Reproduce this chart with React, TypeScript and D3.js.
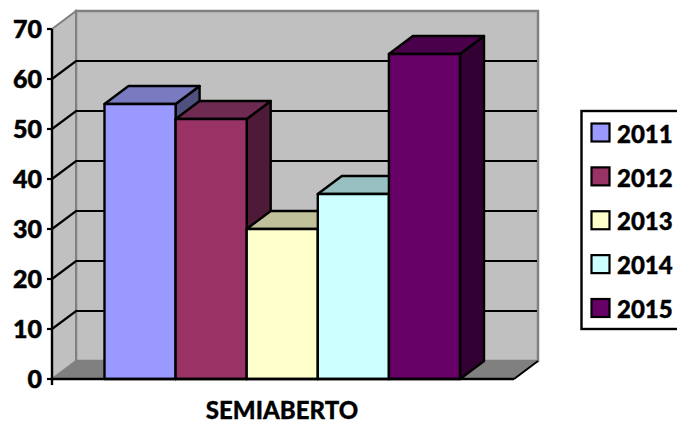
import React from "react";
import * as d3 from "d3";

const categories = ["2011", "2012", "2013", "2014", "2015"];
const values = [55, 52, 30, 37, 65];
const colors = ["#9999ff", "#993366", "#ffffcc", "#ccffff", "#660066"];
const topShades = ["#7a7ac0", "#6e2a50", "#c0c09a", "#99c0c0", "#4a004a"];
const sideShades = ["#50507f", "#4d1a38", "#80806a", "#668080", "#330033"];
const yTicks = [0, 10, 20, 30, 40, 50, 60, 70];
const categoryLabel = "SEMIABERTO";

const W = 677;
const H = 423;
const font = "Lato, Carlito, sans-serif";
const dx = 24;
const dy = -18;
const x0 = 52;
const x1 = 514;
const y = d3.scaleLinear().domain([0, 70]).range([379, 29]);
const x = d3.scaleBand().domain(categories).range([104.5, 460]).padding(0);
const legendRow = d3.scaleLinear().domain([0, 4]).range([132.5, 308]);

const pts = (p: number[][]) => p.map((a) => a.join(",")).join(" ");

export default function App() {
  const yBase = y(0);
  const yTop = y(70);
  return (
    <svg
      width={W}
      height={H}
      style={{ position: "absolute", left: 0, top: 0, background: "#fff" }}
      fontFamily={font}
    >
      {/* back wall, side wall and floor */}
      <polygon
        points={pts([[x0 + dx, yTop + dy], [x1 + dx, yTop + dy], [x1 + dx, yBase + dy], [x0 + dx, yBase + dy]])}
        fill="#c0c0c0"
        stroke="#808080"
        strokeWidth={2.5}
      />
      <polygon
        points={pts([[x0, yTop], [x0 + dx, yTop + dy], [x0 + dx, yBase + dy], [x0, yBase]])}
        fill="#c0c0c0"
        stroke="#808080"
        strokeWidth={2}
      />
      <polygon
        points={pts([[x0, yBase], [x0 + dx, yBase + dy], [x1 + dx, yBase + dy], [x1, yBase]])}
        fill="#808080"
        stroke="#808080"
        strokeWidth={1}
      />

      {/* gridlines wrap from the side wall on to the back wall */}
      {yTicks.filter((t) => t > 0 && t < 70).map((t) => (
        <polyline
          key={t}
          points={pts([[x0, y(t)], [x0 + dx, y(t) + dy], [x1 + dx - 1, y(t) + dy]])}
          fill="none"
          stroke="#000"
          strokeWidth={2.2}
        />
      ))}

      {/* bars */}
      {categories.map((c, i) => {
        const bx = x(c) as number;
        const bw = x.bandwidth();
        const yv = y(values[i]);
        return (
          <g key={c} stroke="#000" strokeWidth={2.4} strokeLinejoin="round">
            <polygon
              points={pts([[bx + bw, yv], [bx + bw + dx, yv + dy], [bx + bw + dx, yBase + dy], [bx + bw, yBase]])}
              fill={sideShades[i]}
            />
            <polygon
              points={pts([[bx, yv], [bx + dx, yv + dy], [bx + bw + dx, yv + dy], [bx + bw, yv]])}
              fill={topShades[i]}
            />
            <rect x={bx} y={yv} width={bw} height={yBase - yv} fill={colors[i]} />
          </g>
        );
      })}

      {/* axes */}
      <line x1={x0} x2={x0} y1={yTop} y2={yBase + 6} stroke="#000" strokeWidth={2.4} />
      <line x1={x0} x2={x1} y1={yBase} y2={yBase} stroke="#000" strokeWidth={2.6} />
      <line x1={x1} x2={x1 + dx} y1={yBase} y2={yBase + dy} stroke="#000" strokeWidth={2} />
      {yTicks.map((t) => (
        <g key={t}>
          <line x1={x0 - 5} x2={x0} y1={y(t)} y2={y(t)} stroke="#000" strokeWidth={2.2} />
          <text
            x={x0 - 10}
            y={y(t)}
            dy="0.36em"
            textAnchor="end"
            fontSize={25}
            fontWeight={900}
            fill="#000"
            stroke="#000"
            strokeWidth={0.5}
          >
            {t}
          </text>
        </g>
      ))}
      <text
        x={282}
        y={419}
        textAnchor="middle"
        fontSize={24}
        fontWeight={900}
        fill="#000"
        stroke="#000"
        strokeWidth={0.3}
      >
        {categoryLabel}
      </text>

      {/* legend */}
      <rect x={581.5} y={111} width={110} height={218} fill="#fff" stroke="#000" strokeWidth={2.4} />
      {categories.map((c, i) => (
        <g key={c}>
          <rect
            x={591.5}
            y={legendRow(i) - 9}
            width={18}
            height={18}
            fill={colors[i]}
            stroke="#000"
            strokeWidth={2.2}
          />
          <text
            x={617}
            y={legendRow(i) + 1.5}
            dy="0.36em"
            fontSize={24}
            fontWeight={900}
            fill="#000"
            stroke="#000"
            strokeWidth={0.4}
          >
            {c}
          </text>
        </g>
      ))}
    </svg>
  );
}
